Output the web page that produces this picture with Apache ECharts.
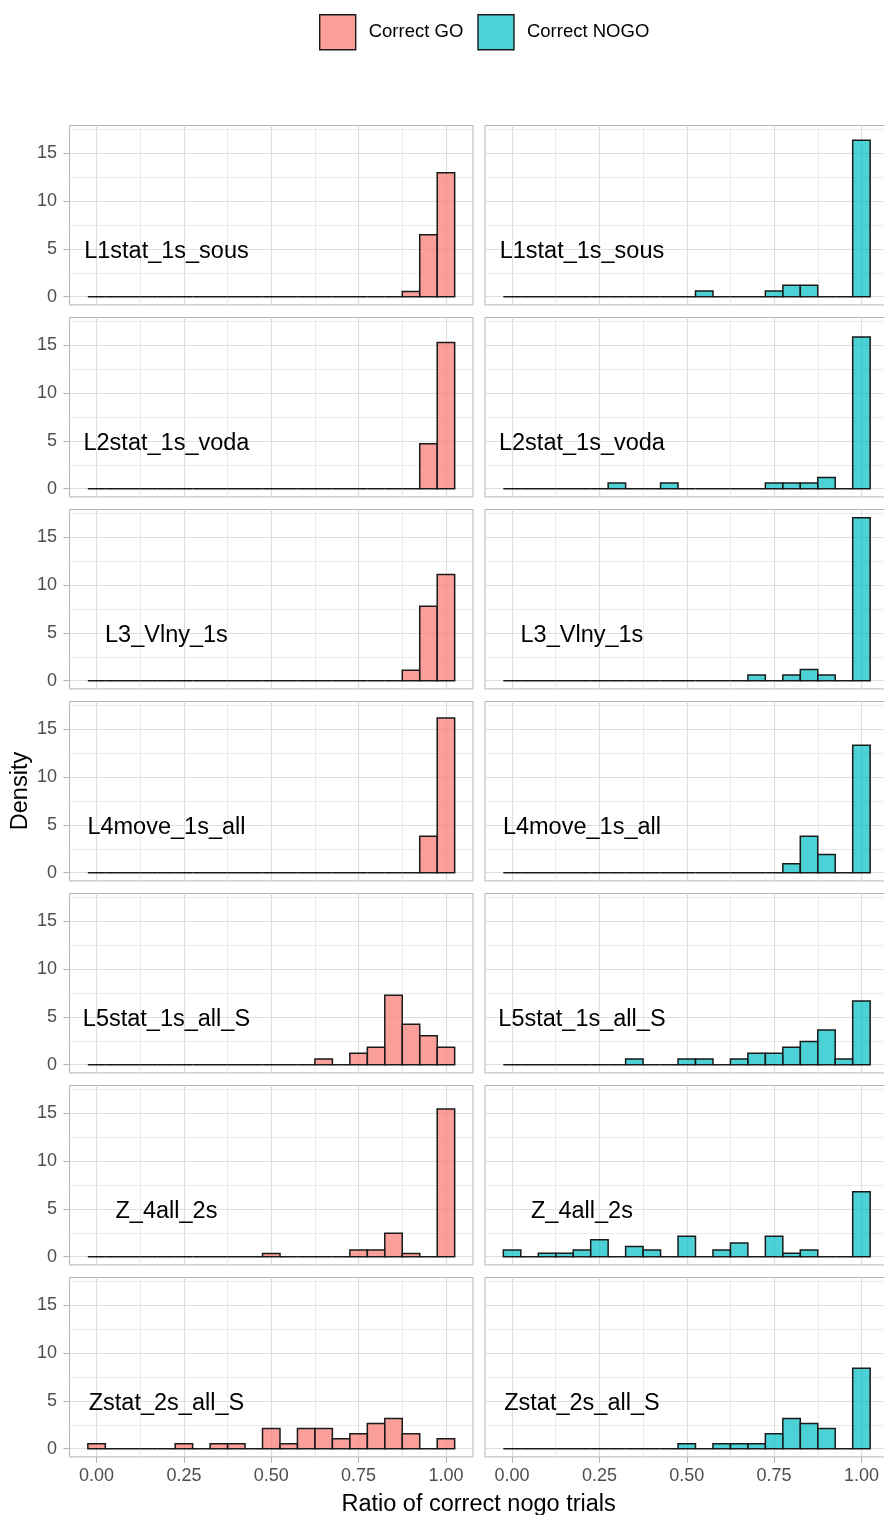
<!DOCTYPE html>
<html><head><meta charset="utf-8">
<script src="https://cdn.jsdelivr.net/npm/echarts@6/dist/echarts.min.js"></script>
<style>html,body{margin:0;padding:0;background:#fff;overflow:hidden;width:884px;height:1515px}#main{width:900px;height:1515px}</style>
</head><body><div id="main"></div>
<script>
// ---- data ----
const binCenters = [0.00,0.05,0.10,0.15,0.20,0.25,0.30,0.35,0.40,0.45,0.50,0.55,0.60,0.65,0.70,0.75,0.80,0.85,0.90,0.95,1.00];
const panelLabels = ['L1stat_1s_sous','L2stat_1s_voda','L3_Vlny_1s','L4move_1s_all','L5stat_1s_all_S','Z_4all_2s','Zstat_2s_all_S'];
const legendNames = ['Correct GO','Correct NOGO'];
const xTicks = [0,0.25,0.5,0.75,1];
const xMinor = [0.125,0.375,0.625,0.875];
const yTicks = [0,5,10,15];
const yMinor = [2.5,7.5,12.5,17.5];

const goL1   = [0,0,0,0,0,0,0,0,0,0,0,0,0,0,0,0,0,0,0.54,6.49,12.97];
const goL2   = [0,0,0,0,0,0,0,0,0,0,0,0,0,0,0,0,0,0,0,4.71,15.29];
const goL3   = [0,0,0,0,0,0,0,0,0,0,0,0,0,0,0,0,0,0,1.11,7.78,11.11];
const goL4   = [0,0,0,0,0,0,0,0,0,0,0,0,0,0,0,0,0,0,0,3.81,16.19];
const goL5   = [0,0,0,0,0,0,0,0,0,0,0,0,0,0.61,0,1.21,1.82,7.27,4.24,3.03,1.82];
const goZ4   = [0,0,0,0,0,0,0,0,0,0,0.35,0,0,0,0,0.70,0.70,2.46,0.35,0,15.44];
const goZs   = [0.53,0,0,0,0,0.53,0,0.53,0.53,0,2.11,0.53,2.11,2.11,1.05,1.58,2.63,3.16,1.58,0,1.05];

const nogoL1 = [0,0,0,0,0,0,0,0,0,0,0,0.61,0,0,0,0.61,1.21,1.21,0,0,16.36];
const nogoL2 = [0,0,0,0,0,0,0.59,0,0,0.59,0,0,0,0,0,0.59,0.59,0.59,1.18,0,15.88];
const nogoL3 = [0,0,0,0,0,0,0,0,0,0,0,0,0,0,0.59,0,0.59,1.18,0.59,0,17.06];
const nogoL4 = [0,0,0,0,0,0,0,0,0,0,0,0,0,0,0,0,0.95,3.81,1.90,0,13.33];
const nogoL5 = [0,0,0,0,0,0,0,0.61,0,0,0.61,0.61,0,0.61,1.21,1.21,1.82,2.42,3.64,0.61,6.67];
const nogoZ4 = [0.71,0,0.36,0.36,0.71,1.79,0,1.07,0.71,0,2.14,0,0.71,1.43,0,2.14,0.36,0.71,0,0,6.79];
const nogoZs = [0,0,0,0,0,0,0,0,0,0,0.53,0,0.53,0.53,0.53,1.58,3.16,2.63,2.11,0,8.42];

const goValues = [goL1,goL2,goL3,goL4,goL5,goZ4,goZs];
const nogoValues = [nogoL1,nogoL2,nogoL3,nogoL4,nogoL5,nogoZ4,nogoZs];

// ---- styling / layout ----
const FONT = "'Liberation Sans', Arial, sans-serif";
const FILLS = ['rgba(248,118,109,0.7)','rgba(0,191,196,0.7)'];
const X_MIN = -0.0775, X_MAX = 1.0775, Y_MIN = -0.853, Y_MAX = 17.91, BIN_W = 0.05;
const LABEL_X = 0.2, LABEL_Y = 5;
const COL_LEFT = [69.5, 485], PANEL_W = 403.5, PANEL_H = 179.4, TOP0 = 125.5, PITCH = 192;

const grids = [], xAxes = [], yAxes = [], series = [];
for (let r = 0; r < 7; r++) {
  for (let c = 0; c < 2; c++) {
    const g = grids.length;
    const bottomRow = r === 6, leftCol = c === 0;
    const fill = FILLS[c];
    const vals = c === 0 ? goValues[r] : nogoValues[r];
    grids.push({left: COL_LEFT[c], top: TOP0 + PITCH * r, width: PANEL_W, height: PANEL_H,
      show: true, borderColor: '#B3B3B3', borderWidth: 1, backgroundColor: '#fff'});
    xAxes.push({type: 'value', gridIndex: g, min: X_MIN, max: X_MAX, position: 'bottom',
      axisLine: {show: false, onZero: false},
      axisTick: {show: bottomRow, customValues: xTicks, length: 6, lineStyle: {color: '#B3B3B3', width: 1}},
      axisLabel: {show: bottomRow, customValues: xTicks, formatter: v => v.toFixed(2), fontSize: 18,
        color: '#4D4D4D', margin: 10, fontFamily: FONT},
      splitLine: {show: true, lineStyle: {color: '#DEDEDE', width: 1.2}}});
    xAxes.push({type: 'value', gridIndex: g, min: X_MIN, max: X_MAX, position: 'top',
      axisLine: {show: false, onZero: false}, axisTick: {show: false, customValues: xMinor},
      axisLabel: {show: false, customValues: xMinor},
      splitLine: {show: true, lineStyle: {color: '#E6E6E6', width: 0.8}}});
    yAxes.push({type: 'value', gridIndex: g, min: Y_MIN, max: Y_MAX, position: 'left',
      axisLine: {show: false, onZero: false},
      axisTick: {show: leftCol, customValues: yTicks, length: 6, lineStyle: {color: '#B3B3B3', width: 1}},
      axisLabel: {show: leftCol, customValues: yTicks, fontSize: 18, color: '#4D4D4D', margin: 12.5, fontFamily: FONT},
      splitLine: {show: true, lineStyle: {color: '#DEDEDE', width: 1.2}}});
    yAxes.push({type: 'value', gridIndex: g, min: Y_MIN, max: Y_MAX, position: 'right',
      axisLine: {show: false, onZero: false}, axisTick: {show: false, customValues: yMinor},
      axisLabel: {show: false, customValues: yMinor},
      splitLine: {show: true, lineStyle: {color: '#E6E6E6', width: 0.8}}});

    series.push({type: 'custom', name: legendNames[c], xAxisIndex: 2 * g, yAxisIndex: 2 * g,
      itemStyle: {color: fill, borderColor: '#1a1a1a'}, z: 3, silent: true,
      data: binCenters.map((b, i) => [b, vals[i]]),
      renderItem: function (params, api) {
        const x = api.value(0), h = api.value(1);
        const p0 = api.coord([x - BIN_W / 2, 0]);
        const p1 = api.coord([x + BIN_W / 2, h]);
        if (h === 0) {
          return {type: 'line', shape: {x1: p0[0], y1: p0[1], x2: p1[0], y2: p0[1]},
            style: {stroke: '#1a1a1a', lineWidth: 1.5}};
        }
        return {type: 'rect', shape: {x: p0[0], y: p1[1], width: p1[0] - p0[0], height: p0[1] - p1[1]},
          style: {fill: fill, stroke: '#1a1a1a', lineWidth: 1.5}};
      }});
    series.push({type: 'custom', name: 'label' + g, xAxisIndex: 2 * g, yAxisIndex: 2 * g, z: 5, silent: true,
      data: [[LABEL_X, LABEL_Y]],
      renderItem: function (params, api) {
        const pt = api.coord([api.value(0), api.value(1)]);
        return {type: 'text', x: pt[0], y: pt[1] + 2.5,
          style: {text: panelLabels[r], fontSize: 23.5, fontFamily: FONT, fill: '#000',
            align: 'center', verticalAlign: 'middle'}};
      }});
  }
}

const chart = echarts.init(document.getElementById('main'), null, {renderer: 'canvas', width: 900, height: 1515});
chart.setOption({
  animation: false,
  backgroundColor: '#fff',
  grid: grids, xAxis: xAxes, yAxis: yAxes, series: series,
  legend: {left: 319, top: 14, padding: 0, itemWidth: 36, itemHeight: 35, itemGap: 14, selectedMode: false,
    data: legendNames.map((n, i) => ({name: n, icon: 'rect',
      itemStyle: {color: FILLS[i], borderColor: '#1a1a1a', borderWidth: 1.4}})),
    textStyle: {fontSize: 18.5, color: '#000', fontFamily: FONT, padding: [2, 0, 0, 8]}},
  graphic: [
    {type: 'text', x: 478.6, y: 1505, silent: true,
      style: {text: 'Ratio of correct nogo trials', fontSize: 23.5, fontFamily: FONT, fill: '#000',
        align: 'center', verticalAlign: 'middle'}},
    {type: 'text', x: 21, y: 791, rotation: Math.PI / 2, silent: true,
      style: {text: 'Density', fontSize: 23.5, fontFamily: FONT, fill: '#000',
        align: 'center', verticalAlign: 'middle'}}
  ]
});
</script>
</body></html>
